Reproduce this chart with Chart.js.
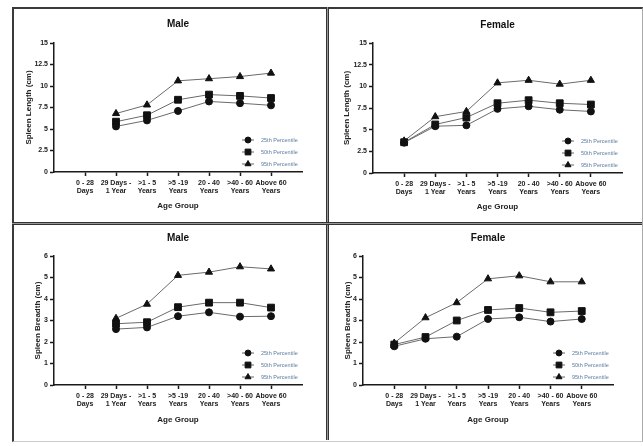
<!DOCTYPE html>
<html>
<head>
<meta charset="utf-8">
<script src="https://cdn.jsdelivr.net/npm/chart.js@4/dist/chart.umd.min.js"></script>
<style>
  body { margin: 0; background: #fff; width: 643px; height: 446px; position: relative; overflow: hidden; }
  canvas { position: absolute; }
  .frame { position: absolute; left: 12px; top: 7px; width: 628px; height: 432px;
    border-top: 2px solid #3a3a3a; border-left: 2px solid #3a3a3a;
    border-right: 1px solid #aaa; border-bottom: 1px solid #ccc; }
  .vdiv { position: absolute; left: 326px; top: 7px; width: 1px; height: 433px;
    border-left: 1px solid #333; border-right: 1px solid #333; background: #999; }
  .hdiv { position: absolute; left: 12px; top: 222px; width: 630px; height: 1px;
    border-top: 1px solid #333; border-bottom: 1px solid #333; background: #999; }
</style>
</head>
<body>
<div class="frame"></div>
<div class="vdiv"></div>
<div class="hdiv"></div>
<canvas id="male-length" width="312" height="213" style="left:14px;top:9px"></canvas>
<canvas id="female-length" width="310" height="213" style="left:330px;top:9px"></canvas>
<canvas id="male-breadth" width="312" height="214" style="left:14px;top:225px"></canvas>
<canvas id="female-breadth" width="310" height="214" style="left:330px;top:225px"></canvas>
<script>
const categories = [
  ["0 - 28", "Days"],
  ["29 Days -", "1 Year"],
  [">1 - 5", "Years"],
  [">5 -19", "Years"],
  ["20 - 40", "Years"],
  [">40 - 60", "Years"],
  ["Above 60", "Years"],
];
const seriesNames = ["25th Percentile", "50th Percentile", "95th Percentile"];

const maleLength25 = [null, 5.3, 6.0, 7.1, 8.2, 8.0, 7.75];
const maleLength50 = [null, 5.85, 6.6, 8.4, 9.0, 8.85, 8.6];
const maleLength95 = [null, 6.8, 7.8, 10.6, 10.85, 11.1, 11.5];

const femaleLength25 = [3.5, 5.4, 5.5, 7.4, 7.7, 7.3, 7.1];
const femaleLength50 = [3.55, 5.6, 6.4, 8.05, 8.4, 8.05, 7.9];
const femaleLength95 = [3.7, 6.5, 7.1, 10.4, 10.7, 10.25, 10.7];

const maleBreadth25 = [null, 2.6, 2.68, 3.2, 3.38, 3.18, 3.2];
const maleBreadth50 = [null, 2.85, 2.92, 3.62, 3.83, 3.83, 3.6];
const maleBreadth95 = [null, 3.1, 3.76, 5.1, 5.25, 5.5, 5.4];

const femaleBreadth25 = [1.8, 2.15, 2.25, 3.07, 3.15, 2.95, 3.07];
const femaleBreadth50 = [1.88, 2.23, 3.0, 3.49, 3.58, 3.38, 3.44];
const femaleBreadth95 = [1.95, 3.13, 3.83, 4.94, 5.08, 4.8, 4.8];

const lengthTicks = { max: 15, step: 2.5 };
const breadthTicks = { max: 6, step: 1 };

const FONT = "'Liberation Sans', Arial, sans-serif";
const pointStyles = ["circle", "rect", "triangle"];
const pointSizes = [3.5, 4.8, 4.1];

// legend drawn inside the plot, bottom right
const insideLegend = {
  id: "insideLegend",
  afterDraw: (chart) => {
    const { ctx, chartArea } = chart;
    ctx.save();
    chart.data.datasets.forEach((ds, i) => {
      const y = chartArea.bottom - 32 + 12 * i;
      const mx = chartArea.right - 54;
      ctx.strokeStyle = "#666";
      ctx.lineWidth = 1;
      ctx.beginPath();
      ctx.moveTo(mx - 6, y);
      ctx.lineTo(mx + 6, y);
      ctx.stroke();
      ctx.fillStyle = "#111";
      ctx.strokeStyle = "#111";
      Chart.helpers.drawPoint(ctx, { pointStyle: ds.pointStyle, radius: ds.pointRadius * 0.85, rotation: 0, borderWidth: 1 }, mx, y);
      ctx.fillStyle = "#5a7ba0";
      ctx.font = "5.5px " + FONT;
      ctx.textBaseline = "middle";
      ctx.textAlign = "left";
      ctx.fillText(ds.label, chartArea.right - 41, y);
    });
    ctx.restore();
  },
};

const buildPanel = (id, title, yTitle, ticks, series, g) => {
  const canvas = document.getElementById(id);
  const cx = parseFloat(canvas.style.left);
  const cy = parseFloat(canvas.style.top);
  const w = canvas.width;
  const h = canvas.height;

  const padLeft = g.yTitleX - cx - 4.8;
  const padBottom = cy + h - g.xTitleY - 4.8;
  const titleTop = g.titleY - cy - 6;

  return new Chart(canvas, {
    type: "line",
    data: {
      datasets: series.map((values, i) => ({
        label: seriesNames[i],
        data: values.map((v, j) => ({ x: j, y: v })),
        borderColor: "#6a6a6a",
        borderWidth: 1,
        pointStyle: pointStyles[i],
        pointRadius: pointSizes[i],
        pointBackgroundColor: "#111",
        pointBorderColor: "#111",
        pointBorderWidth: 1,
        tension: 0,
      })),
    },
    options: {
      responsive: false,
      animation: false,
      devicePixelRatio: 1,
      layout: {
        padding: { left: padLeft, right: cx + w - g.r, top: 0, bottom: padBottom },
      },
      plugins: {
        legend: { display: false },
        tooltip: { enabled: false },
        title: {
          display: true,
          text: title,
          fullSize: false,
          color: "#111",
          font: { family: FONT, size: 10, weight: "bold", lineHeight: 1.2 },
          padding: { top: titleTop, bottom: g.t - cy - titleTop - 12 },
        },
      },
      scales: {
        x: {
          type: "linear",
          min: -1,
          max: 7,
          afterBuildTicks: (axis) => {
            axis.ticks = categories.map((c, i) => ({ value: i }));
          },
          afterFit: (s) => {
            s.height = cy + h - padBottom - g.b;
          },
          border: { display: true, color: "#1a1a1a", width: 1.5 },
          grid: { display: true, drawOnChartArea: false, drawTicks: true, tickLength: 4, tickColor: "#1a1a1a", tickWidth: 1.5 },
          ticks: {
            autoSkip: false,
            maxRotation: 0,
            padding: 3,
            color: "#222",
            font: { family: FONT, size: 7, weight: "bold", lineHeight: 1.15 },
            callback: (v) => categories[v] || "",
          },
          title: {
            display: true,
            text: "Age Group",
            color: "#222",
            padding: 0,
            font: { family: FONT, size: 8, weight: "bold", lineHeight: 1.2 },
          },
        },
        y: {
          min: 0,
          max: ticks.max,
          afterFit: (s) => {
            s.width = g.l - cx - padLeft;
          },
          border: { display: true, color: "#1a1a1a", width: 1.5 },
          grid: { display: true, drawOnChartArea: false, drawTicks: true, tickLength: 4, tickColor: "#1a1a1a", tickWidth: 1.5 },
          ticks: {
            stepSize: ticks.step,
            padding: 2,
            color: "#222",
            font: { family: FONT, size: 7, weight: "bold" },
          },
          title: {
            display: true,
            text: yTitle,
            color: "#222",
            padding: 0,
            font: { family: FONT, size: 8, weight: "bold", lineHeight: 1.2 },
          },
        },
      },
    },
    plugins: [insideLegend],
  });
};

buildPanel("male-length", "Male", "Spleen Length (cm)", lengthTicks,
  [maleLength25, maleLength50, maleLength95],
  { l: 54, r: 302, t: 43, b: 172, titleY: 24, yTitleX: 29, xTitleY: 206 });

buildPanel("female-length", "Female", "Spleen Length (cm)", lengthTicks,
  [femaleLength25, femaleLength50, femaleLength95],
  { l: 373, r: 622, t: 43, b: 173, titleY: 25, yTitleX: 347, xTitleY: 207 });

buildPanel("male-breadth", "Male", "Spleen Breadth (cm)", breadthTicks,
  [maleBreadth25, maleBreadth50, maleBreadth95],
  { l: 54, r: 302, t: 256, b: 385, titleY: 238, yTitleX: 38, xTitleY: 420 });

buildPanel("female-breadth", "Female", "Spleen Breadth (cm)", breadthTicks,
  [femaleBreadth25, femaleBreadth50, femaleBreadth95],
  { l: 363, r: 613, t: 256, b: 385, titleY: 238, yTitleX: 348, xTitleY: 420 });
</script>
</body>
</html>
